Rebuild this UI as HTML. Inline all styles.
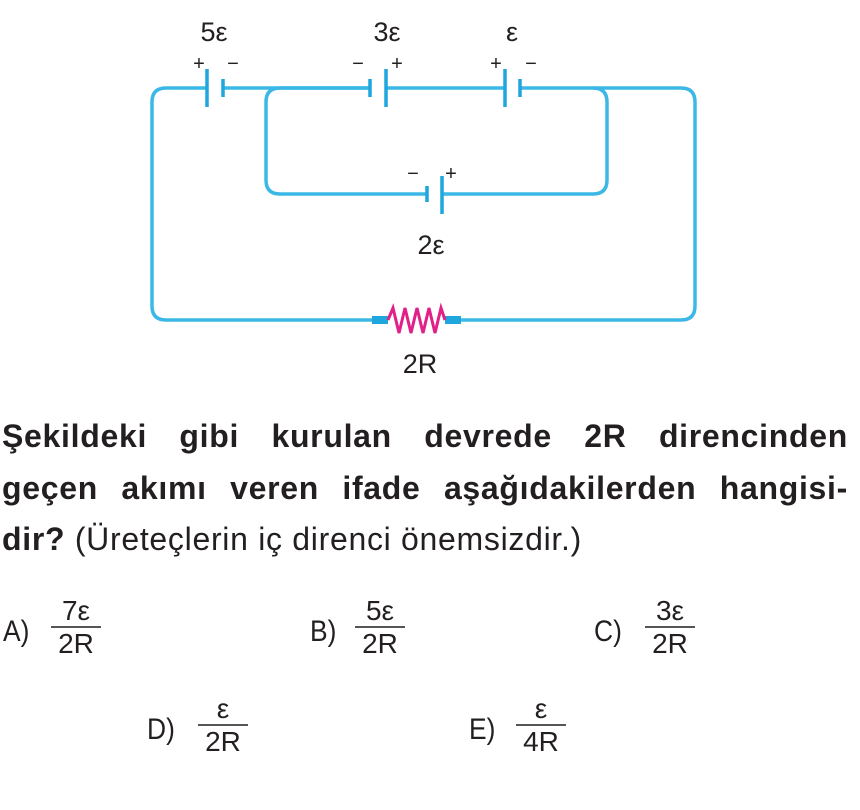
<!DOCTYPE html>
<html><head><meta charset="utf-8"><style>
body{margin:0;width:860px;height:810px;background:#fff;position:relative;overflow:hidden;font-family:"Liberation Sans",sans-serif;color:#231f20}
.p{position:absolute;left:2px;width:846px;font-size:32px;font-weight:bold;text-align:justify;text-align-last:justify;white-space:nowrap;letter-spacing:0.7px}
.lbl{position:absolute;font-size:30px;transform:scaleX(0.88);transform-origin:left}
.fr{position:absolute;font-size:28px;text-align:center;width:50px}
.fr .n{display:block;border-bottom:2px solid #555;line-height:30px}
.fr .d{display:block;line-height:32px}
</style></head><body>
<svg width="860" height="400" style="position:absolute;left:0;top:0">
<g fill="none" stroke="#3cb8e6" stroke-width="3.5" stroke-linejoin="round">
<path d="M207 88 H166 Q152 88 152 102 V306 Q152 320 166 320 H375"/>
<path d="M455 320 H681 Q695 320 695 306 V102 Q695 88 681 88 H520"/>
<path d="M223 88 H370 M386 88 H505"/>
<path d="M370 88 H280 Q266 88 266 102 V180 Q266 194 280 194 H427 M442 194 H593 Q607 194 607 180 V102 Q607 88 593 88"/>
</g>
<g stroke="#1ea6dd" stroke-width="3.5">
<line x1="207" y1="69" x2="207" y2="107"/><line x1="223" y1="79" x2="223" y2="97"/>
<line x1="386" y1="69" x2="386" y2="107"/><line x1="370" y1="79" x2="370" y2="97"/>
<line x1="505" y1="69" x2="505" y2="107"/><line x1="520" y1="79" x2="520" y2="97"/>
<line x1="442" y1="176" x2="442" y2="214"/><line x1="427" y1="186" x2="427" y2="202"/>
</g>
<rect x="372" y="316" width="16" height="8" fill="#1ea6dd"/><rect x="445" y="316" width="16" height="8" fill="#1ea6dd"/>
<path d="M388 320 L393 308 L399 333 L405 308 L411 333 L417 308 L423 333 L429 308 L435 333 L441 308 L445 320" fill="none" stroke="#e0218a" stroke-width="3"/>
<g font-family="Liberation Sans" font-size="27" fill="#231f20" text-anchor="middle">
<text x="214" y="41">5ε</text><text x="387" y="41">3ε</text><text x="512" y="41">ε</text>
<text x="431" y="254">2ε</text><text x="420" y="373">2R</text>
</g>
<g font-family="Liberation Sans" font-size="20" fill="#231f20" text-anchor="middle">
<text x="199" y="70">+</text><text x="233" y="70">−</text>
<text x="358" y="70">−</text><text x="397" y="70">+</text>
<text x="496" y="70">+</text><text x="531" y="70">−</text>
<text x="413" y="180">−</text><text x="451" y="180">+</text>
</g>
</svg>
<div class="p" style="top:418px">Şekildeki gibi kurulan devrede 2R direncinden</div>
<div class="p" style="top:470px">geçen akımı veren ifade aşağıdakilerden hangisi-</div>
<div class="p" style="top:521px;text-align:left;text-align-last:left">dir? <span style="font-weight:normal">(Üreteçlerin iç direnci önemsizdir.)</span></div>

<div class="lbl" style="left:3px;top:615px">A)</div>
<div class="fr" style="left:51px;top:596px"><span class="n">7ε</span><span class="d">2R</span></div>
<div class="lbl" style="left:310px;top:615px">B)</div>
<div class="fr" style="left:355px;top:596px"><span class="n">5ε</span><span class="d">2R</span></div>
<div class="lbl" style="left:594px;top:615px">C)</div>
<div class="fr" style="left:645px;top:596px"><span class="n">3ε</span><span class="d">2R</span></div>
<div class="lbl" style="left:147px;top:713px">D)</div>
<div class="fr" style="left:198px;top:694px"><span class="n">ε</span><span class="d">2R</span></div>
<div class="lbl" style="left:469px;top:713px">E)</div>
<div class="fr" style="left:516px;top:694px"><span class="n">ε</span><span class="d">4R</span></div>
</body></html>
